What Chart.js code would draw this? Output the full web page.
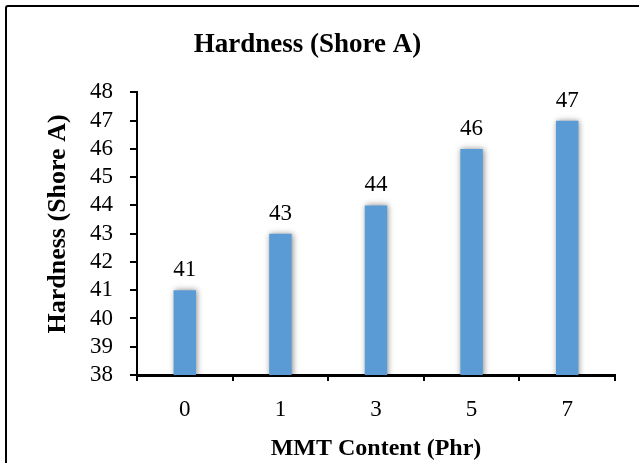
<!DOCTYPE html>
<html>
<head>
<meta charset="utf-8">
<script src="https://cdn.jsdelivr.net/npm/chart.js@4.4.1/dist/chart.umd.min.js"></script>
<style>
  html, body { margin: 0; padding: 0; background: #fff; overflow: hidden; }
  #wrap { position: relative; width: 639px; height: 463px; }
  #frame { position: absolute; left: 5px; top: 5px; width: 700px; height: 500px;
           border: 2px solid #000; border-radius: 3px; box-sizing: border-box; }
  canvas { position: absolute; left: 0; top: 0; }
</style>
</head>
<body>
<div id="wrap">
  <div id="frame"></div>
  <canvas id="c" width="639" height="463"></canvas>
</div>
<script>
// MMT loading levels and measured hardness
const categories = ['0', '1', '3', '5', '7'];
const hardness = [41, 43, 44, 46, 47];
const yTicks = [38, 39, 40, 41, 42, 43, 44, 45, 46, 47, 48];

const serif = '"Liberation Serif", "Times New Roman", serif';

// soft shadow behind the bars
const barShadow = {
  id: 'barShadow',
  beforeDatasetsDraw(chart) {
    const ctx = chart.ctx;
    ctx.save();
    ctx.shadowColor = 'rgba(0,0,0,0.45)';
    ctx.shadowBlur = 6;
    ctx.shadowOffsetX = 1;
    ctx.shadowOffsetY = 0;
  },
  afterDatasetsDraw(chart) {
    chart.ctx.restore();
  }
};

// value printed above each bar
const valueLabels = {
  id: 'valueLabels',
  afterDraw(chart) {
    const ctx = chart.ctx;
    const meta = chart.getDatasetMeta(0);
    ctx.save();
    ctx.font = '23px ' + serif;
    ctx.fillStyle = '#000';
    ctx.textAlign = 'center';
    ctx.textBaseline = 'alphabetic';
    meta.data.forEach((bar, i) => {
      ctx.fillText(String(hardness[i]), bar.x, bar.y - 14);
    });
    ctx.restore();
  }
};

new Chart(document.getElementById('c'), {
  type: 'bar',
  data: {
    labels: categories,
    datasets: [{
      data: hardness,
      backgroundColor: '#5B9BD5',
      borderWidth: 0,
      barPercentage: 0.235,
      categoryPercentage: 1.0
    }]
  },
  options: {
    responsive: false,
    animation: false,
    events: [],
    layout: { padding: { left: 0, right: 24, top: 0, bottom: 0 } },
    plugins: {
      legend: { display: false },
      tooltip: { enabled: false },
      title: {
        display: true,
        text: 'Hardness (Shore A)',
        color: '#000',
        font: { family: serif, size: 27, weight: 'bold', lineHeight: 1.2 },
        padding: { top: 29, bottom: 31 }
      }
    },
    scales: {
      x: {
        border: { display: true, color: '#000', width: 3 },
        grid: { display: true, drawOnChartArea: false, drawTicks: true, tickLength: 6, color: '#000', lineWidth: 2 },
        ticks: { color: '#000', font: { family: serif, size: 23 }, padding: 15 },
        title: {
          display: true,
          text: 'MMT Content (Phr)',
          color: '#000',
          font: { family: serif, size: 24, weight: 'bold', lineHeight: 1.2 },
          padding: { top: 0, bottom: 0 }
        },
        afterFit(scale) { scale.height = 88; }
      },
      y: {
        min: 38,
        max: 48,
        afterBuildTicks(scale) { scale.ticks = yTicks.map(v => ({ value: v })); },
        border: { display: true, color: '#000', width: 2 },
        grid: { display: true, drawOnChartArea: false, drawTicks: true, tickLength: 7, color: '#000', lineWidth: 2 },
        ticks: { color: '#000', font: { family: serif, size: 23 }, padding: 17, autoSkip: false },
        title: {
          display: true,
          text: '   Hardness (Shore A)',
          color: '#000',
          font: { family: serif, size: 26, weight: 'bold', lineHeight: 1.2 },
          padding: { top: 43, bottom: 0 }
        },
        afterFit(scale) { scale.width = 137; }
      }
    }
  },
  plugins: [barShadow, valueLabels]
});
</script>
</body>
</html>
